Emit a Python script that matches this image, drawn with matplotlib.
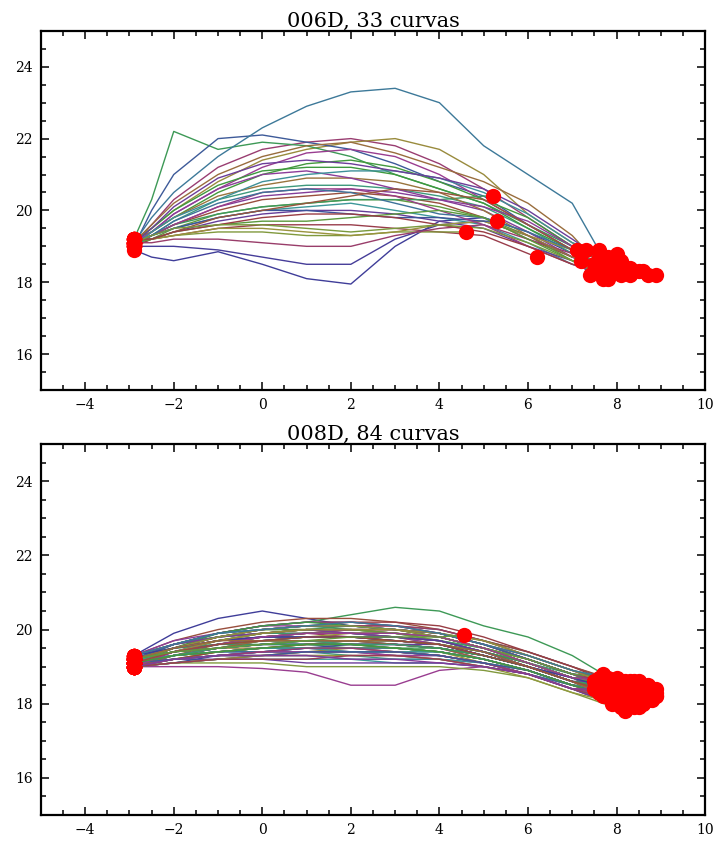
import colorsys

import matplotlib
matplotlib.use("Agg")
from matplotlib import pyplot as plt
from matplotlib.ticker import MultipleLocator

# --- panel 1: 006D, 33 curves (y read at shared x positions, then end point)
GRID_1 = [-2.9, -2.5, -2, -1, 0, 1, 2, 3, 4, 5, 6, 7]
CURVES_1 = [
    [18.9, 18.7, 18.6, 18.85, 18.5, 18.1, 17.95, 19.0, 19.7, 19.8, 19.4, 18.8],
    [19.1, 19.6, 20.3, 21.2, 21.7, 21.9, 22.0, 21.8, 21.3, 20.6, 19.8, 19.0],
    [19.2, 19.5, 20.0, 20.8, 21.4, 21.7, 21.9, 22.0, 21.7, 21.0, 19.9, 19.1],
    [19.2, 20.3, 22.2, 21.7, 21.9, 21.8, 21.5, 21.0, 20.6, 20.2, 19.6, 19.0],
    [19.0, 20.0, 21.0, 22.0, 22.1, 21.9, 21.7, 21.3, 20.8, 20.4, 19.6, 18.9],
    [19.0, 19.4, 19.9, 20.6, 21.2, 21.6, 21.7, 21.5, 21.0, 20.3, 19.6, 18.9],
    [19.1, 19.6, 20.2, 21.0, 21.5, 21.8, 21.9, 21.6, 21.2, 20.8, 20.2, 19.3],
    [19.2, 19.4, 19.8, 20.5, 21.0, 21.3, 21.4, 21.2, 20.8, 20.3, 19.8, 19.0],
    [19.1, 19.8, 20.5, 21.5, 22.3, 22.9, 23.3, 23.4, 23.0, 21.8, 21.0, 20.2],
    [19.1, 19.3, 19.6, 20.1, 20.4, 20.5, 20.6, 20.5, 20.3, 20.0, 19.4, 18.7],
    [19.2, 19.3, 19.6, 20.0, 20.3, 20.4, 20.5, 20.4, 20.2, 19.8, 19.2, 18.7],
    [19.0, 19.2, 19.5, 19.9, 20.1, 20.2, 20.3, 20.3, 20.1, 19.8, 19.3, 18.6],
    [19.1, 19.3, 19.5, 19.8, 20.0, 20.1, 20.2, 20.0, 19.8, 19.6, 19.1, 18.5],
    [19.2, 19.2, 19.4, 19.7, 19.9, 20.0, 20.0, 19.9, 19.7, 19.5, 19.0, 18.6],
    [19.0, 19.2, 19.3, 19.5, 19.6, 19.6, 19.6, 19.5, 19.4, 19.3],
    [19.1, 19.2, 19.3, 19.4, 19.4, 19.3, 19.3, 19.4, 19.4],
    [19.0, 19.3, 19.7, 20.3, 20.6, 20.7, 20.7, 20.6, 20.4, 20.1, 19.5, 18.8],
    [19.0, 19.0, 19.0, 18.9, 18.7, 18.5, 18.5, 19.2, 19.6, 19.7, 19.3, 18.7],
    [19.1, 19.1, 19.2, 19.2, 19.1, 19.0, 19.0, 19.3, 19.5, 19.6, 19.2, 18.8],
    [19.2, 19.2, 19.3, 19.5, 19.5, 19.4, 19.3, 19.4, 19.6, 19.7, 19.3, 18.9],
    [19.1, 19.3, 19.6, 19.9, 20.1, 20.2, 20.3, 20.3, 20.3, 20.4],
    [19.0, 19.3, 19.5, 19.8, 20.0, 20.0, 19.9, 19.8, 19.8, 19.7],
    [19.1, 19.3, 19.6, 20.1, 20.5, 20.6, 20.6, 20.4, 20.0, 19.6, 19.0, 18.5],
    [19.2, 19.4, 19.8, 20.4, 20.7, 20.9, 20.9, 20.8, 20.5, 20.0, 19.3, 18.7],
    [19.1, 19.5, 20.0, 20.7, 21.1, 21.2, 21.2, 21.0, 20.6, 20.2, 19.5, 18.9],
    [19.0, 19.3, 19.7, 20.2, 20.5, 20.6, 20.5, 20.2, 19.9, 19.8, 19.4, 18.9],
    [19.1, 19.4, 19.9, 20.6, 21.0, 21.1, 20.9, 20.6, 20.3, 20.1, 19.7, 19.0],
    [19.2, 19.2, 19.4, 19.8, 20.0, 20.2, 20.4, 20.6, 20.5, 20.3, 19.6, 18.9],
    [19.1, 19.2, 19.4, 19.6, 19.7, 19.7, 19.8, 19.9, 20.0, 19.8, 19.2, 18.6],
    [19.0, 19.4, 19.8, 20.3, 20.8, 21.0, 21.1, 21.1, 20.9, 20.5, 19.9, 19.1],
    [19.1, 19.5, 20.1, 20.9, 21.3, 21.4, 21.3, 21.1, 20.9, 20.6, 20.0, 19.2],
    [19.2, 19.2, 19.4, 19.6, 19.8, 19.9, 19.9, 19.8, 19.6, 19.4, 19.0, 18.5],
    [19.1, 19.3, 19.5, 19.6, 19.6, 19.5, 19.4, 19.5, 19.6, 19.5, 19.1, 18.6],
]
END_X_1 = [7.4, 8.0, 8.3, 7.5, 7.8, 7.9, 7.3, 8.5, 7.6, 8.1, 8.9, 7.7, 7.6, 8.2,
           6.2, 4.6, 8.7, 7.8, 8.0, 7.1, 5.2, 5.3, 7.5, 8.4, 8.6, 7.2, 7.9, 8.0,
           7.7, 8.1, 7.6, 8.3, 7.8]
END_Y_1 = [18.2, 18.5, 18.4, 18.5, 18.7, 18.3, 18.9, 18.3, 18.9, 18.2, 18.2, 18.1, 18.3, 18.3,
           18.7, 19.4, 18.2, 18.4, 18.6, 18.9, 20.4, 19.7, 18.3, 18.3, 18.3, 18.6, 18.6, 18.8,
           18.5, 18.6, 18.7, 18.2, 18.1]

# --- panel 2: 008D, 84 curves
GRID_2 = [-2.9, -2, -1, 0, 1, 2, 3, 4, 5, 6, 7]
CURVES_2 = [
    [19.3, 19.9, 20.3, 20.5, 20.3, 20.1, 20.0, 19.9, 19.6, 19.2, 18.8],
    [19.1, 19.5, 19.8, 20.0, 20.1, 20.1, 20.1, 19.9, 19.6, 19.3, 18.9],
    [19.0, 19.3, 19.5, 19.7, 19.8, 19.8, 19.8, 19.6, 19.4, 19.0, 18.6],
    [19.2, 19.6, 19.9, 20.1, 20.2, 20.4, 20.6, 20.5, 20.1, 19.8, 19.3],
    [19.2, 19.6, 19.9, 20.1, 20.2, 20.2, 20.1, 20.0, 19.7, 19.4, 19.0],
    [19.0, 19.0, 19.0, 18.95, 18.85, 18.5, 18.5, 18.9, 19.0, 18.8, 18.4],
    [19.1, 19.4, 19.7, 19.9, 20.0, 20.0, 19.9, 19.8, 19.5, 19.2, 18.8],
    [19.2, 19.5, 19.6, 19.7, 19.7, 19.7, 19.6, 19.5, 19.3, 19.0, 18.6],
    [19.0, 19.2, 19.3, 19.4, 19.5, 19.5, 19.5, 19.4, 19.2, 18.9, 18.5],
    [19.1, 19.3, 19.4, 19.5, 19.5, 19.4, 19.4, 19.3, 19.1, 18.8, 18.4],
    [19.3, 19.7, 20.0, 20.2, 20.3, 20.3, 20.2, 20.0, 19.7, 19.4, 19.0],
    [19.1, 19.5, 19.8, 20.0, 20.0, 19.9, 19.8, 19.7, 19.5, 19.1, 18.7],
    [19.0, 19.1, 19.2, 19.2, 19.2, 19.2, 19.1, 19.1, 19.0, 18.8, 18.4],
    [19.2, 19.4, 19.5, 19.6, 19.6, 19.6, 19.6, 19.6, 19.4, 19.1, 18.7],
    [19.1, 19.4, 19.6, 19.8, 19.9, 19.9, 19.9, 19.8, 19.5, 19.1, 18.7],
    [19.0, 19.1, 19.1, 19.1, 19.0, 19.0, 19.0, 19.0, 18.9, 18.7, 18.3],
    [19.2, 19.6, 19.8, 20.0, 20.1, 20.0, 19.9, 19.7, 19.4, 19.0, 18.6],
    [19.1, 19.3, 19.5, 19.6, 19.7, 19.7, 19.7, 19.6, 19.3, 19.0, 18.6],
    [19.3, 19.6, 19.8, 19.9, 19.9, 19.8, 19.8, 19.7, 19.4, 19.1, 18.7],
    [19.0, 19.2, 19.4, 19.5, 19.6, 19.6, 19.5, 19.4, 19.1, 18.8, 18.4],
    [19.1, 19.4, 19.7, 19.9, 20.0, 20.1, 20.0, 19.9, 19.6, 19.2, 18.8],
    [19.2, 19.3, 19.4, 19.4, 19.4, 19.4, 19.3, 19.3, 19.1, 18.8, 18.5],
    [19.1, 19.2, 19.3, 19.3, 19.3, 19.3, 19.3, 19.2, 19.0, 18.8, 18.4],
    [19.0, 19.3, 19.6, 19.8, 19.9, 20.0, 20.0, 19.9, 19.6, 19.3, 18.9],
    [19.2, 19.5, 19.7, 19.8, 19.8, 19.8, 19.7, 19.6, 19.4, 19.1, 18.7],
    [19.1, 19.3, 19.4, 19.4, 19.5, 19.5, 19.4, 19.4, 19.2, 18.9, 18.5],
    [19.3, 19.7, 19.9, 20.1, 20.1, 20.1, 20.0, 19.8, 19.5, 19.2, 18.8],
    [19.0, 19.1, 19.2, 19.3, 19.4, 19.4, 19.4, 19.3, 19.1, 18.9, 18.5],
    [19.1, 19.4, 19.6, 19.7, 19.8, 19.8, 19.7, 19.6, 19.3, 19.0, 18.6],
    [19.2, 19.4, 19.6, 19.7, 19.7, 19.6, 19.6, 19.5, 19.3, 19.0, 18.6],
    [19.0, 19.2, 19.2, 19.2, 19.1, 19.1, 19.1, 19.1, 19.0, 18.8, 18.4],
    [19.1, 19.5, 19.8, 20.0, 20.1, 20.2, 20.2, 20.1, 19.8, 19.4, 19.0],
    [19.2, 19.5, 19.7, 19.9, 20.0, 20.0, 19.9, 19.7, 19.4, 19.0, 18.6],
    [19.1, 19.2, 19.3, 19.4, 19.4, 19.3, 19.2, 19.2, 19.1, 18.9, 18.5],
    [19.0, 19.3, 19.5, 19.6, 19.6, 19.6, 19.5, 19.4, 19.2, 18.9, 18.5],
    [19.2, 19.6, 19.9, 20.1, 20.2, 20.2, 20.1, 20.0, 19.7, 19.3, 18.9],
    [19.1, 19.3, 19.5, 19.7, 19.8, 19.9, 19.9, 19.8, 19.5, 19.2, 18.8],
    [19.3, 19.5, 19.6, 19.6, 19.6, 19.5, 19.5, 19.4, 19.2, 18.9, 18.5],
    [19.0, 19.1, 19.3, 19.4, 19.5, 19.6, 19.6, 19.5, 19.3, 19.0, 18.6],
    [19.1, 19.4, 19.7, 19.8, 19.9, 19.9, 19.8, 19.7, 19.4, 19.0, 18.7],
    [19.2, 19.4, 19.5, 19.5, 19.5, 19.5, 19.4, 19.3, 19.1, 18.8, 18.4],
    [19.1, 19.5, 19.9, 20.1, 20.2, 20.1, 20.0, 19.8, 19.5, 19.2, 18.8],
    [19.0, 19.2, 19.3, 19.4, 19.4, 19.4, 19.4, 19.3, 19.1, 18.8, 18.5],
    [19.2, 19.5, 19.7, 19.8, 19.9, 19.9, 19.8, 19.6, 19.3, 19.0, 18.7],
    [19.1, 19.3, 19.4, 19.5, 19.6, 19.7, 19.7, 19.6, 19.3, 19.0, 18.6],
    [19.3, 19.6, 19.9, 20.0, 20.0, 20.0, 20.0, 19.9, 19.7, 19.3, 18.9],
    [19.0, 19.1, 19.2, 19.3, 19.3, 19.2, 19.2, 19.2, 19.1, 18.8, 18.4],
    [19.1, 19.4, 19.5, 19.6, 19.7, 19.7, 19.6, 19.5, 19.2, 18.9, 18.5],
    [19.2, 19.5, 19.8, 19.9, 20.0, 20.0, 20.0, 19.8, 19.5, 19.1, 18.7],
    [19.1, 19.2, 19.4, 19.5, 19.5, 19.5, 19.5, 19.4, 19.2, 18.9, 18.5],
    [19.0, 19.3, 19.5, 19.7, 19.8, 19.8, 19.8, 19.7, 19.4, 19.1, 18.7],
    [19.2, 19.4, 19.6, 19.7, 19.8, 19.8, 19.7, 19.6, 19.3, 19.0, 18.6],
    [19.1, 19.5, 19.8, 20.0, 20.1, 20.1, 20.1, 19.9, 19.6, 19.2, 18.8],
    [19.0, 19.2, 19.3, 19.3, 19.3, 19.3, 19.3, 19.2, 19.0, 18.7, 18.3],
    [19.3, 19.6, 19.8, 19.9, 19.9, 19.9, 19.8, 19.7, 19.5, 19.1, 18.8],
    [19.1, 19.3, 19.5, 19.6, 19.6, 19.6, 19.6, 19.5, 19.3, 19.0, 18.6],
    [19.2, 19.5, 19.7, 19.8, 19.9, 20.0, 20.0, 19.9, 19.6, 19.2, 18.8],
    [19.0, 19.1, 19.2, 19.3, 19.4, 19.5, 19.5, 19.4, 19.2, 18.9, 18.5],
    [19.1, 19.4, 19.6, 19.7, 19.7, 19.7, 19.7, 19.6, 19.4, 19.1, 18.7],
    [19.2, 19.6, 19.9, 20.0, 20.1, 20.1, 20.0, 19.9, 19.6, 19.2, 18.8],
    [19.1, 19.2, 19.3, 19.4, 19.4, 19.4, 19.3, 19.3, 19.1, 18.8, 18.4],
    [19.0, 19.3, 19.5, 19.7, 19.7, 19.7, 19.6, 19.5, 19.2, 18.9, 18.5],
    [19.2, 19.4, 19.6, 19.8, 19.9, 19.9, 19.9, 19.8, 19.5, 19.1, 18.7],
    [19.1, 19.3, 19.4, 19.5, 19.5, 19.5, 19.5, 19.4, 19.2, 18.9, 18.5],
    [19.3, 19.6, 19.8, 19.9, 20.0, 19.9, 19.8, 19.7, 19.4, 19.0, 18.6],
    [19.0, 19.2, 19.4, 19.5, 19.6, 19.6, 19.6, 19.5, 19.3, 19.0, 18.6],
    [19.1, 19.5, 19.7, 19.9, 20.0, 20.0, 19.9, 19.8, 19.5, 19.2, 18.8],
    [19.2, 19.3, 19.4, 19.5, 19.5, 19.4, 19.4, 19.4, 19.2, 18.9, 18.5],
    [19.1, 19.4, 19.6, 19.8, 19.8, 19.8, 19.8, 19.7, 19.4, 19.0, 18.6],
    [19.0, 19.1, 19.2, 19.2, 19.2, 19.3, 19.3, 19.2, 19.0, 18.8, 18.4],
    [19.2, 19.5, 19.8, 20.0, 20.1, 20.1, 20.0, 19.8, 19.5, 19.1, 18.7],
    [19.1, 19.3, 19.5, 19.6, 19.7, 19.6, 19.6, 19.5, 19.3, 19.0, 18.6],
    [19.3, 19.5, 19.7, 19.8, 19.8, 19.8, 19.7, 19.6, 19.3, 19.0, 18.7],
    [19.0, 19.2, 19.3, 19.4, 19.5, 19.5, 19.4, 19.3, 19.1, 18.8, 18.4],
    [19.1, 19.4, 19.7, 19.9, 20.0, 20.0, 20.0, 19.9, 19.7, 19.3, 18.9],
    [19.2, 19.4, 19.5, 19.6, 19.6, 19.6, 19.5, 19.5, 19.3, 19.0, 18.6],
    [19.1, 19.2, 19.3, 19.3, 19.4, 19.4, 19.4, 19.3, 19.1, 18.9, 18.5],
    [19.0, 19.4, 19.6, 19.8, 19.9, 19.9, 19.9, 19.8, 19.5, 19.1, 18.7],
    [19.2, 19.5, 19.7, 19.7, 19.7, 19.7, 19.7, 19.6, 19.4, 19.0, 18.6],
    [19.1, 19.3, 19.4, 19.5, 19.6, 19.6, 19.5, 19.4, 19.2, 18.9, 18.5],
    [19.3, 19.6, 19.9, 20.0, 20.1, 20.2, 20.1, 19.9, 19.6, 19.3, 18.9],
    [19.0, 19.2, 19.3, 19.3, 19.3, 19.2, 19.2, 19.1, 19.0, 18.8, 18.4],
    [19.1, 19.4, 19.6, 19.7, 19.8, 19.8, 19.7, 19.6, 19.3, 19.0, 18.6],
    [19.2, 19.4, 19.5, 19.6, 19.7, 19.8, 19.8, 19.8],
]
END_X_2 = [8.0, 8.5, 8.2, 7.7, 8.7, 8.1, 7.6, 8.4, 8.8, 7.9, 7.8, 8.3, 8.6, 8.0,
           7.5, 8.2, 8.9, 8.4, 7.7, 8.1, 8.5, 8.3, 7.9, 8.6, 8.7, 7.6, 8.2, 8.8,
           8.0, 8.4, 8.1, 7.8, 8.6, 8.3, 7.7, 8.5, 8.9, 8.0, 8.2, 8.7, 7.5, 8.4,
           8.6, 7.9, 8.3, 8.1, 8.5, 8.8, 7.6, 8.2, 8.0, 8.6, 8.9, 8.4, 7.8, 8.3,
           8.7, 8.1, 8.5, 8.0, 8.6, 7.7, 8.2, 8.8, 8.4, 8.0, 8.5, 7.9, 8.7, 8.2,
           8.3, 8.6, 7.6, 8.9, 8.1, 8.4, 8.0, 8.7, 7.8, 8.5, 8.2, 8.8, 8.3, 4.55]
END_Y_2 = [18.4, 18.3, 18.0, 18.8, 18.3, 17.9, 18.5, 18.1, 18.2, 18.0, 18.7, 18.3, 18.1, 18.2,
           18.6, 17.8, 18.2, 18.4, 18.3, 18.1, 18.5, 18.0, 18.2, 18.4, 18.1, 18.3, 18.5, 18.3,
           18.0, 18.2, 17.9, 18.6, 18.2, 18.4, 18.4, 18.2, 18.3, 18.3, 18.1, 18.4, 18.4, 18.6,
           18.0, 18.5, 18.1, 18.6, 17.9, 18.2, 18.7, 18.3, 18.3, 18.5, 18.4, 17.9, 18.4, 18.6,
           18.2, 18.2, 18.4, 18.7, 18.3, 18.2, 18.4, 18.1, 18.5, 18.1, 18.6, 18.3, 18.3, 18.0,
           18.5, 18.4, 18.5, 18.2, 18.4, 18.3, 18.2, 18.5, 18.2, 18.0, 18.6, 18.4, 18.2, 19.85]


def mma_color(k):
    # old Mathematica default plot style sequence
    h = (0.67 + 0.236068 * k) % 1.0
    return colorsys.hsv_to_rgb(h, 0.6, 0.6)


def draw_panel(ax, grid, curves, end_x, end_y, title):
    for k, ys in enumerate(curves):
        xs = list(grid[:len(ys)]) + [end_x[k]]
        yy = list(ys) + [end_y[k]]
        ax.plot(xs, yy, color=mma_color(k), lw=1.0, zorder=2)
    start_x = [grid[0] for _ in curves]
    start_y = [c[0] for c in curves]
    ax.plot(start_x, start_y, "o", color="red", ms=11, mec="none", zorder=3)
    ax.plot(end_x, end_y, "o", color="red", ms=11, mec="none", zorder=3)

    ax.set_xlim(-5, 10)
    ax.set_ylim(15, 25)
    ax.xaxis.set_major_locator(MultipleLocator(2))
    ax.xaxis.set_minor_locator(MultipleLocator(0.5))
    ax.yaxis.set_major_locator(MultipleLocator(2))
    ax.yaxis.set_minor_locator(MultipleLocator(0.5))
    ax.tick_params(which="both", direction="in", top=True, right=True, width=1.1, color="black")
    ax.tick_params(which="major", length=6, labelsize=10, pad=6)
    ax.tick_params(which="minor", length=3.5)
    for s in ax.spines.values():
        s.set_linewidth(1.6)
    for lab in ax.get_xticklabels() + ax.get_yticklabels():
        lab.set_family("DejaVu Serif")
    ax.set_title(title, family="DejaVu Serif", fontsize=15, pad=3)


fig = plt.figure(figsize=(7.18, 8.41), dpi=100)
ax1 = fig.add_axes([0.057, 0.5363, 0.925, 0.427])
ax2 = fig.add_axes([0.057, 0.0309, 0.925, 0.441])

draw_panel(ax1, GRID_1, CURVES_1, END_X_1, END_Y_1, "006D, 33 curvas")
draw_panel(ax2, GRID_2, CURVES_2, END_X_2, END_Y_2, "008D, 84 curvas")

fig.savefig("out.png", dpi=100)
